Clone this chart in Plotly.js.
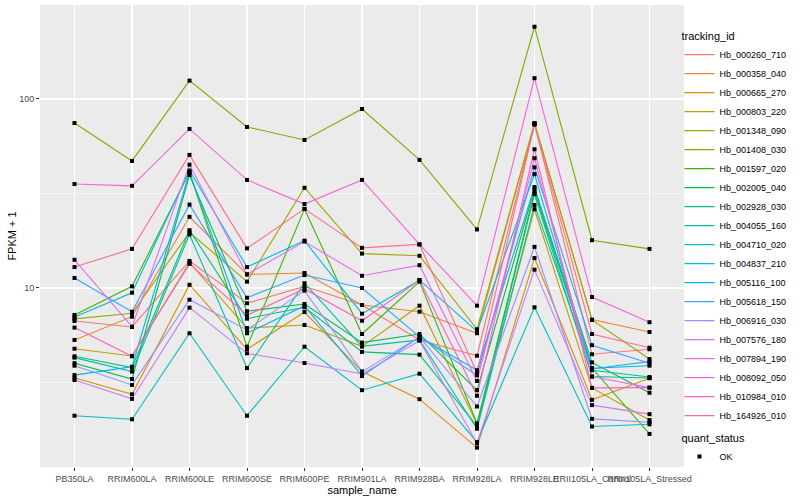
<!DOCTYPE html>
<html>
<head>
<meta charset="utf-8">
<script src="https://cdn.plot.ly/plotly-3.0.1.min.js"></script>
<style>
  html, body { margin: 0; padding: 0; background: #ffffff; }
  #chart { width: 800px; height: 500px; }
</style>
</head>
<body>
<div id="chart"></div>
<script>
// ---- data (FPKM + 1) ----
const sampleNames = ["PB350LA", "RRIM600LA", "RRIM600LE", "RRIM600SE", "RRIM600PE", "RRIM901LA",
  "RRIM928BA", "RRIM928LA", "RRIM928LE", "RRII105LA_Control", "RRII105LA_Stressed"];

const trackingIds = ["Hb_000260_710", "Hb_000358_040", "Hb_000665_270", "Hb_000803_220", "Hb_001348_090",
  "Hb_001408_030", "Hb_001597_020", "Hb_002005_040", "Hb_002928_030", "Hb_004055_160",
  "Hb_004710_020", "Hb_004837_210", "Hb_005116_100", "Hb_005618_150", "Hb_006916_030",
  "Hb_007576_180", "Hb_007894_190", "Hb_008092_050", "Hb_010984_010", "Hb_164926_010"];

const hb_000260_710 = [6.69, 6.22, 13.9, 8.30, 10.2, 8.13, 5.31, 4.38, 73.8, 4.46, 4.74];
const hb_000358_040 = [5.31, 7.05, 23.8, 11.8, 12.0, 8.13, 7.49, 5.76, 74.4, 6.80, 5.85];
const hb_000665_270 = [3.35, 2.74, 10.4, 4.74, 7.46, 3.61, 2.58, 1.43, 14.4, 2.56, 3.33];
const hb_000803_220 = [4.77, 4.37, 13.6, 6.14, 6.37, 4.91, 8.06, 1.91, 26.1, 2.96, 2.00];
const hb_001348_090 = [6.86, 7.35, 19.7, 10.8, 33.9, 15.2, 14.8, 6.05, 74.4, 6.77, 4.21];
const hb_001408_030 = [74.6, 47.0, 125, 71.1, 60.7, 88.5, 47.6, 20.4, 241, 17.9, 16.1];
const hb_001597_020 = [7.20, 10.2, 40.9, 4.89, 26.2, 5.71, 10.8, 1.92, 32.3, 3.77, 1.69];
const hb_002005_040 = [4.00, 3.30, 39.6, 7.53, 8.23, 5.14, 5.71, 2.88, 33.4, 4.04, 2.79];
const hb_002928_030 = [4.35, 3.79, 20.2, 6.88, 7.90, 4.59, 4.44, 1.86, 31.4, 3.40, 3.34];
const hb_004055_160 = [4.28, 3.61, 19.2, 3.77, 10.6, 4.91, 5.31, 1.80, 27.5, 3.67, 3.38];
const hb_004710_020 = [2.11, 2.02, 5.76, 2.11, 4.89, 2.88, 3.52, 1.53, 7.90, 1.85, 1.90];
const hb_004837_210 = [7.03, 9.44, 41.8, 12.9, 17.8, 7.31, 11.0, 5.90, 40.0, 3.76, 3.88];
const hb_005116_100 = [3.46, 3.83, 40.9, 5.76, 8.03, 3.42, 5.51, 3.67, 34.2, 3.73, 4.08];
const hb_005618_150 = [11.3, 7.49, 27.6, 8.88, 11.7, 10.0, 5.51, 3.45, 43.5, 4.98, 4.00];
const hb_006916_030 = [3.88, 3.07, 8.67, 6.00, 9.68, 3.61, 5.51, 2.36, 16.5, 2.03, 1.95];
const hb_007576_180 = [3.26, 2.59, 7.87, 4.51, 4.01, 3.51, 5.26, 1.51, 12.5, 2.40, 2.15];
const hb_007894_190 = [14.1, 6.24, 44.9, 11.8, 17.6, 11.6, 13.2, 3.22, 48.6, 3.40, 2.97];
const hb_008092_050 = [35.5, 34.7, 69.4, 37.3, 27.8, 37.3, 17.0, 8.06, 128.8, 8.96, 6.59];
const hb_010984_010 = [6.17, 4.35, 13.4, 7.17, 9.88, 6.71, 11.0, 2.69, 54.2, 2.96, 2.97];
const hb_164926_010 = [12.9, 16.1, 50.6, 16.2, 26.2, 16.3, 17.0, 3.56, 73.1, 5.71, 4.83];

const seriesValues = [hb_000260_710, hb_000358_040, hb_000665_270, hb_000803_220, hb_001348_090,
  hb_001408_030, hb_001597_020, hb_002005_040, hb_002928_030, hb_004055_160,
  hb_004710_020, hb_004837_210, hb_005116_100, hb_005618_150, hb_006916_030,
  hb_007576_180, hb_007894_190, hb_008092_050, hb_010984_010, hb_164926_010];

const quantStatus = ["OK"];

const yTickVals = [10, 100];
const yMinorVals = [3.1623, 31.623, 316.23];

// ggplot2 default hue palette for 20 levels
const palette = ["#F8766D", "#EA8331", "#D89000", "#C09B00", "#A3A500", "#7CAE00", "#39B600", "#00BB4E",
  "#00BF7D", "#00C1A3", "#00BFC4", "#00BAE0", "#00B0F6", "#35A2FF", "#9590FF", "#C77CFF",
  "#E76BF3", "#FA62DB", "#FF62BC", "#FF6C91"];

// ---- traces ----
const traces = trackingIds.map((id, i) => ({
  type: "scatter",
  mode: "lines",
  name: id,
  x: sampleNames,
  y: seriesValues[i],
  line: { color: palette[i], width: 1.1 },
  legend: "legend",
  hoverinfo: "skip"
}));

const allX = [], allY = [];
seriesValues.forEach(vals => vals.forEach((v, j) => { allX.push(sampleNames[j]); allY.push(v); }));
traces.push({
  type: "scatter",
  mode: "markers",
  name: quantStatus[0],
  x: allX,
  y: allY,
  marker: { symbol: "square", size: 4, color: "#000000" },
  legend: "legend2",
  hoverinfo: "skip"
});

const FONT = "Liberation Sans, Arial, Helvetica, sans-serif";

const layout = {
  width: 800,
  height: 500,
  margin: { l: 40, r: 116, t: 5, b: 33, pad: 0 },
  paper_bgcolor: "#FFFFFF",
  plot_bgcolor: "#EBEBEB",
  font: { family: FONT, size: 9, color: "#000000" },
  showlegend: true,
  xaxis: {
    type: "category",
    categoryorder: "array",
    categoryarray: sampleNames,
    range: [-0.6, 10.6],
    showgrid: true,
    gridcolor: "#FFFFFF",
    gridwidth: 1.1,
    zeroline: false,
    showline: false,
    ticks: "outside",
    ticklen: 3,
    tickwidth: 1,
    tickcolor: "#333333",
    tickangle: 0,
    tickfont: { family: FONT, size: 9, color: "#4D4D4D" },
    automargin: false,
    title: { text: "sample_name", font: { family: FONT, size: 11, color: "#000000" }, standoff: 2 }
  },
  yaxis: {
    type: "log",
    range: [0.0529, 2.497],
    tickmode: "array",
    tickvals: yTickVals,
    ticktext: yTickVals.map(String),
    showgrid: true,
    gridcolor: "#FFFFFF",
    gridwidth: 1.1,
    minor: { tickmode: "array", tickvals: yMinorVals, showgrid: true, gridcolor: "#FFFFFF", gridwidth: 0.55, ticks: "" },
    zeroline: false,
    showline: false,
    ticks: "outside",
    ticklen: 3,
    tickwidth: 1,
    tickcolor: "#333333",
    tickfont: { family: FONT, size: 9, color: "#4D4D4D" },
    automargin: false,
    title: { text: "FPKM + 1", font: { family: FONT, size: 11, color: "#000000" }, standoff: 0 }
  },
  legend: {
    x: 0.993, xanchor: "left",
    y: 0.955, yanchor: "top",
    bgcolor: "rgba(0,0,0,0)",
    font: { family: FONT, size: 9, color: "#000000" },
    title: { text: "tracking_id", font: { family: FONT, size: 11, color: "#000000" } },
    itemwidth: 30,
    tracegroupgap: 0
  },
  legend2: {
    x: 0.993, xanchor: "left",
    y: 0.085, yanchor: "top",
    bgcolor: "rgba(0,0,0,0)",
    font: { family: FONT, size: 9, color: "#000000" },
    title: { text: "quant_status", font: { family: FONT, size: 11, color: "#000000" } },
    itemwidth: 30
  }
};

Plotly.newPlot("chart", traces, layout, { displayModeBar: false, staticPlot: true });
</script>
</body>
</html>
